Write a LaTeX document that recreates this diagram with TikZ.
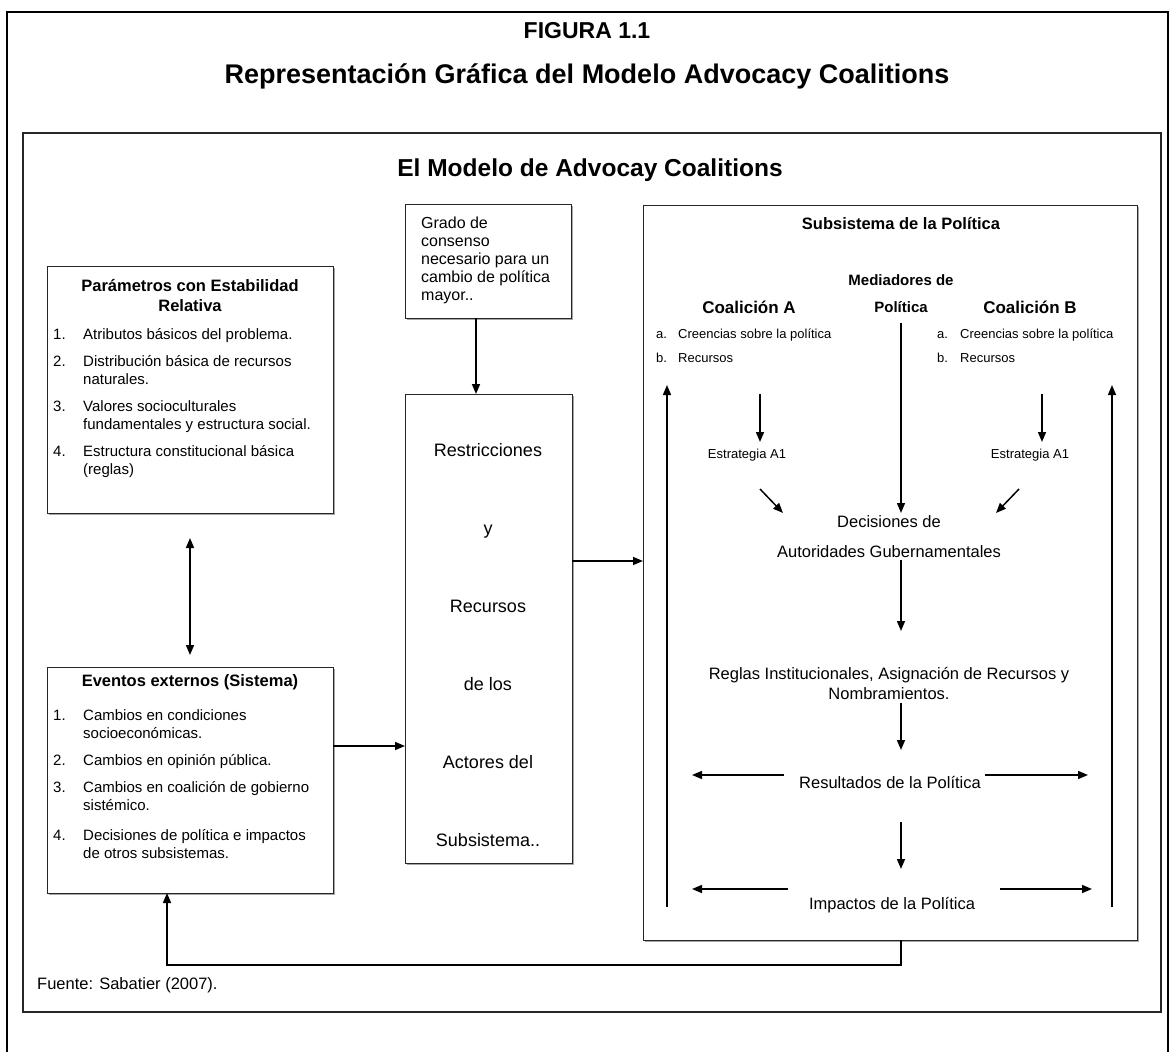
\documentclass[tikz,border=0pt]{standalone}
\usepackage{fontspec}
\usepackage{array}
\setmainfont{Liberation Sans}
\usetikzlibrary{arrows.meta,shadows}

\begin{document}
\begin{tikzpicture}[x=1pt,y=1pt,yscale=-1,xscale=1,
  box/.style={draw=black!85, line width=1pt, fill=white, inner sep=0pt, outer sep=0pt, anchor=north west,
    drop shadow={shadow xshift=1.5pt, shadow yshift=-1.5pt, fill=black!35, opacity=1}},
  arr/.style={-{Triangle[length=10pt,width=8pt]}, line width=1.5pt},
  arrboth/.style={{Triangle[length=10pt,width=8pt]}-{Triangle[length=10pt,width=8pt]}, line width=1.5pt},
  titulo/.style={font=\fontsize{23}{27}\selectfont\bfseries, anchor=base, inner sep=0pt},
  cabeza/.style={font=\fontsize{16.5}{20}\selectfont\bfseries, anchor=base, inner sep=0pt},
  cuerpo/.style={font=\fontsize{15}{18}\selectfont, anchor=base west, inner sep=0pt},
  texto/.style={font=\fontsize{16.5}{20}\selectfont, anchor=base, inner sep=0pt},
  chico/.style={font=\fontsize{13}{24}\selectfont, inner sep=0pt},
  coal/.style={font=\fontsize{17}{20}\selectfont\bfseries, anchor=base, inner sep=0pt}]
\useasboundingbox (0,0) rectangle (1171,1052);

% marcos
\draw[line width=2pt] (7,1052) -- (7,12) -- (1168,12) -- (1168,1052);
\draw[draw=black!85, line width=1.2pt] (23,133) rectangle (1161,1012);

\node[titulo] (figura) at (587,38) {FIGURA 1.1};
\node[titulo, font=\fontsize{27}{30}\selectfont\bfseries] (repr) at (587,83) {Representación Gráfica del Modelo Advocacy Coalitions};
\node[titulo, font=\fontsize{24.5}{28}\selectfont\bfseries] (modelo) at (590,176) {El Modelo de Advocay Coalitions};

% cajas
\node[box, minimum width=286pt, minimum height=247pt] (param) at (47,266) {};
\node[box, minimum width=286pt, minimum height=226pt] (eventos) at (47,667) {};
\node[box, minimum width=166pt, minimum height=114pt] (grado) at (405,204) {};
\node[box, minimum width=167pt, minimum height=469pt] (restr) at (405,394) {};
\node[box, minimum width=494pt, minimum height=735pt] (subsis) at (643,205) {};

\node[cabeza] (paramtit) at (190,291) {\begin{tabular}[t]{@{}c@{}}Parámetros con Estabilidad\\ Relativa\end{tabular}};
\node[cuerpo] (paramlista) at (53,339) {\begin{tabular}[t]{@{}p{30pt}@{}>{\raggedright\arraybackslash}p{245pt}@{}}
1. & Atributos básicos del problema.\\\noalign{\vskip9pt}
2. & Distribución básica de recursos\newline naturales.\\\noalign{\vskip9pt}
3. & Valores socioculturales\newline fundamentales y estructura social.\\\noalign{\vskip9pt}
4. & Estructura constitucional básica\newline (reglas)
\end{tabular}};

\node[cabeza] (eventostit) at (190,686) {Eventos externos (Sistema)};
\node[cuerpo] (eventoslista) at (53,720) {\begin{tabular}[t]{@{}p{30pt}@{}>{\raggedright\arraybackslash}p{245pt}@{}}
1. & Cambios en condiciones\newline socioeconómicas.\\\noalign{\vskip9pt}
2. & Cambios en opinión pública.\\\noalign{\vskip9pt}
3. & Cambios en coalición de gobierno\newline sistémico.\\\noalign{\vskip12pt}
4. & Decisiones de política e impactos\newline de otros subsistemas.
\end{tabular}};

\node[cuerpo, font=\fontsize{16}{18}\selectfont] (gradotxt) at (421,228) {\begin{tabular}[t]{@{}l@{}}Grado de\\ consenso\\ necesario para un\\ cambio de política\\ mayor..\end{tabular}};

\node[font=\fontsize{18}{21.6}\selectfont, anchor=base, inner sep=0pt] (restrtxt) at (488,456) {\begin{tabular}[t]{@{}c@{}}Restricciones\\[56.4pt] y\\[56.4pt] Recursos\\[56.4pt] de los\\[56.4pt] Actores del\\[56.4pt] Subsistema..\end{tabular}};

% subsistema
\node[cabeza] (subtit) at (901,229) {Subsistema de la Política};
\node[font=\fontsize{15}{27}\selectfont\bfseries, anchor=base, inner sep=0pt] (mediadores) at (901,285) {\begin{tabular}[t]{@{}c@{}}Mediadores de\\ Política\end{tabular}};
\node[coal] (coalA) at (749,313) {Coalición A};
\node[coal] (coalB) at (1030,313) {Coalición B};
\node[chico, anchor=base west] (listaA) at (656,338) {\begin{tabular}[t]{@{}p{22pt}@{}l@{}}a. & Creencias sobre la política\\ b. & Recursos\end{tabular}};
\node[chico, anchor=base west] (listaB) at (937,338) {\begin{tabular}[t]{@{}p{23pt}@{}l@{}}a. & Creencias sobre la política\\ b. & Recursos\end{tabular}};
\node[chico, anchor=base] (estA) at (747,458) {Estrategia A1};
\node[chico, anchor=base] (estB) at (1030,458) {Estrategia A1};
\node[font=\fontsize{16.5}{30}\selectfont, anchor=base, inner sep=0pt] (decisiones) at (889,527) {\begin{tabular}[t]{@{}c@{}}Decisiones de\\ Autoridades Gubernamentales\end{tabular}};
\node[texto] (reglas) at (889,679) {\begin{tabular}[t]{@{}c@{}}Reglas Institucionales, Asignación de Recursos y\\ Nombramientos.\end{tabular}};
\node[texto] (resultados) at (890,788) {Resultados de la Política};
\node[texto] (impactos) at (892,909) {Impactos de la Política};

% extremos libres
\coordinate (ejeGrado) at (476,318);
\coordinate (salEv) at (333,746);
\coordinate (salRe) at (572,561);
\coordinate (eje) at (901,940);
\coordinate (retro) at (167,965);
\coordinate (izq0) at (667,907);
\coordinate (izq1) at (667,385);
\coordinate (der0) at (1112,907);
\coordinate (der1) at (1112,385);
\coordinate (a0) at (760,394);
\coordinate (a1) at (760,442);
\coordinate (b0) at (1042,394);
\coordinate (b1) at (1042,442);
\coordinate (m0) at (901,323);
\coordinate (m1) at (901,513);
\coordinate (da0) at (760,489);
\coordinate (da1) at (783,513);
\coordinate (db0) at (1019,489);
\coordinate (db1) at (996,513);
\coordinate (d0) at (901,560);
\coordinate (d1) at (901,631);
\coordinate (r0) at (901,703);
\coordinate (r1) at (901,750);
\coordinate (s0) at (901,822);
\coordinate (s1) at (901,869);
\coordinate (resI0) at (784,775);
\coordinate (resI1) at (692,775);
\coordinate (resD0) at (985,775);
\coordinate (resD1) at (1088,775);
\coordinate (impI0) at (788,889);
\coordinate (impI1) at (692,889);
\coordinate (impD0) at (1000,889);
\coordinate (impD1) at (1092,889);

% conectores
\draw[arrboth, shorten <=25pt, shorten >=12pt] (param.south) -- (eventos.north);
\draw[arr] (ejeGrado) -- (ejeGrado |- restr.north);
\draw[arr] (eventos.east |- salEv) -- (restr.west |- salEv);
\draw[arr] (restr.east |- salRe) -- (subsis.west |- salRe);
\draw[arr] (eje) |- (retro) -- (retro |- eventos.south);

\draw[arr] (izq0) -- (izq1);
\draw[arr] (der0) -- (der1);
\draw[arr] (a0) -- (a1);
\draw[arr] (b0) -- (b1);
\draw[arr] (m0) -- (m1);
\draw[arr] (da0) -- (da1);
\draw[arr] (db0) -- (db1);
\draw[arr] (d0) -- (d1);
\draw[arr] (r0) -- (r1);
\draw[arr] (s0) -- (s1);
\draw[arr] (resI0) -- (resI1);
\draw[arr] (resD0) -- (resD1);
\draw[arr] (impI0) -- (impI1);
\draw[arr] (impD0) -- (impD1);

\node[font=\fontsize{16.5}{20}\selectfont, anchor=base west, inner sep=0pt] (fuente) at (37,989) {Fuente: Sabatier (2007).};

\end{tikzpicture}
\end{document}
